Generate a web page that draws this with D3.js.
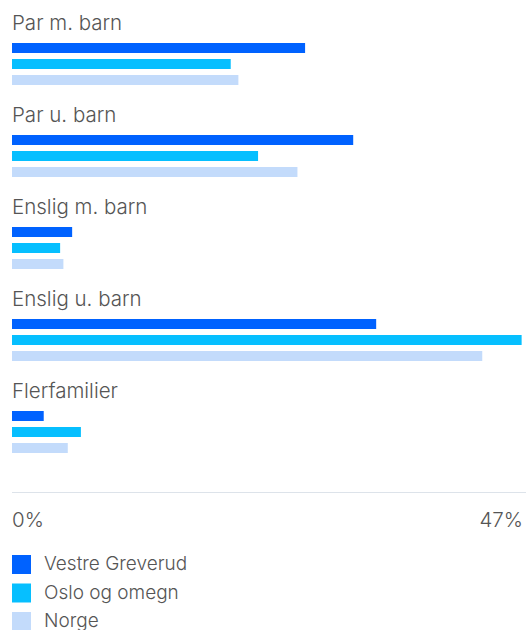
<!DOCTYPE html>
<html>
<head>
<meta charset="utf-8">
<script src="https://cdn.jsdelivr.net/npm/d3@7"></script>
<style>
  html, body { margin: 0; padding: 0; background: #fff; }
  svg { display: block; }
  text { font-family: Inter, "Noto Sans", sans-serif; fill: #555; font-weight: 300; }
</style>
</head>
<body>
<svg id="chart" width="528" height="630"></svg>
<script>
// Household types and share (%) for each area
const categories = ["Par m. barn", "Par u. barn", "Enslig m. barn", "Enslig u. barn", "Flerfamilier"];
const seriesNames = ["Vestre Greverud", "Oslo og omegn", "Norge"];
const vestreGreverud = [26.8, 31.2, 5.5, 33.3, 2.9];
const osloOgOmegn = [20.0, 22.5, 4.4, 46.6, 6.3];
const norge = [20.7, 26.1, 4.7, 43.0, 5.1];
const colors = ["#0062ff", "#06bfff", "#c3dbfb"];
const axisMax = 47;
const tickLabels = ["0%", "47%"];

const seriesValues = [vestreGreverud, osloOgOmegn, norge];

const svg = d3.select("#chart");

const x = d3.scaleLinear().domain([0, axisMax]).range([12, 526]);
const groupY = d3.scaleBand().domain(categories).range([8, 468]);
const barY = d3.scaleBand().domain(seriesNames).range([35, 83]);
const barH = 10;

const groups = svg.selectAll("g.group")
  .data(categories)
  .join("g")
  .attr("class", "group")
  .attr("transform", d => `translate(0,${groupY(d)})`);

groups.append("text")
  .attr("x", 12)
  .attr("y", 22)
  .attr("font-size", 20.5)
  .text(d => d);

groups.each(function (cat, ci) {
  d3.select(this).selectAll("rect")
    .data(seriesNames.map((s, si) => ({ s, si, v: seriesValues[si][ci] })))
    .join("rect")
    .attr("x", x(0))
    .attr("y", d => barY(d.s))
    .attr("width", d => x(d.v) - x(0))
    .attr("height", barH)
    .attr("fill", d => colors[d.si]);
});

// x axis baseline and end labels
svg.append("line")
  .attr("x1", x(0)).attr("x2", x(axisMax))
  .attr("y1", 492.5).attr("y2", 492.5)
  .attr("stroke", "#dde3ea")
  .attr("stroke-width", 1);

svg.selectAll("text.tick")
  .data([0, axisMax])
  .join("text")
  .attr("class", "tick")
  .attr("x", d => d === 0 ? x(d) : x(d) - 3)
  .attr("y", 527)
  .attr("text-anchor", (d, i) => i === 0 ? "start" : "end")
  .attr("font-size", 20.5)
  .text((d, i) => tickLabels[i]);

// legend
const legend = svg.selectAll("g.legend")
  .data(seriesNames)
  .join("g")
  .attr("class", "legend")
  .attr("transform", (d, i) => `translate(12,${555 + i * 28.5})`);

legend.append("rect")
  .attr("width", 19)
  .attr("height", 19)
  .attr("fill", (d, i) => colors[i]);

legend.append("text")
  .attr("x", 32)
  .attr("y", 15)
  .attr("font-size", 19)
  .text(d => d);
</script>
</body>
</html>
